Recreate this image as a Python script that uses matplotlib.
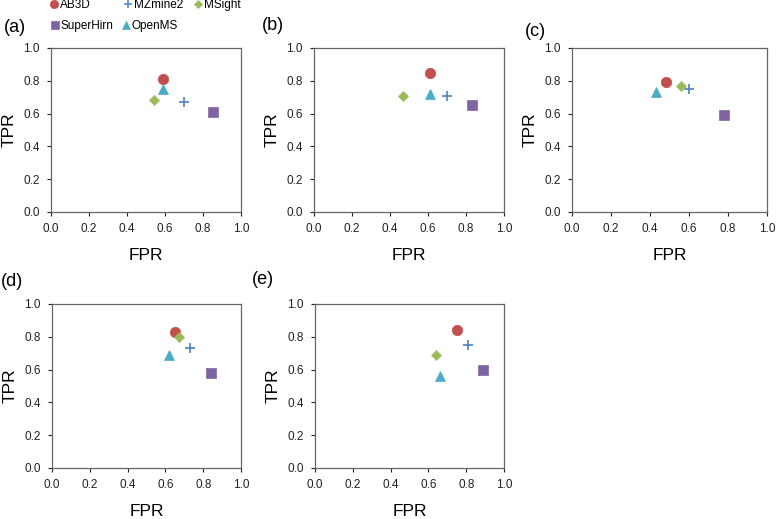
import matplotlib.pyplot as plt
from matplotlib.lines import Line2D

plt.rcParams['font.family'] = ['Liberation Sans', 'DejaVu Sans']

tools = ['AB3D', 'MZmine2', 'MSight', 'SuperHirn', 'OpenMS']
colors = ['#C0504D', '#4F81BD', '#9BBB59', '#8064A2', '#4BACC6']
markers = ['o', '+', 'D', 's', '^']
msizes = [7.5, 7, 5.5, 7, 7.5]

panels = ['(a)', '(b)', '(c)', '(d)', '(e)']
# FPR / TPR per panel, in the order of tools
fpr = [
    [0.59, 0.70, 0.54, 0.85, 0.59],
    [0.61, 0.70, 0.47, 0.83, 0.61],
    [0.48, 0.60, 0.56, 0.78, 0.43],
    [0.65, 0.73, 0.67, 0.84, 0.62],
    [0.75, 0.81, 0.64, 0.89, 0.66],
]
tpr = [
    [0.81, 0.67, 0.68, 0.61, 0.75],
    [0.85, 0.71, 0.71, 0.65, 0.72],
    [0.79, 0.75, 0.77, 0.59, 0.73],
    [0.83, 0.73, 0.80, 0.58, 0.69],
    [0.84, 0.75, 0.69, 0.60, 0.56],
]
ticks = [0.0, 0.2, 0.4, 0.6, 0.8, 1.0]

W, H = 776, 519
fig = plt.figure(figsize=(W / 100, H / 100), dpi=100)

# axes boxes in pixels: left, top, right, bottom
boxes = [
    (51, 48, 241, 212),
    (314, 48, 504, 212),
    (572, 48, 767, 212),
    (52, 304, 241, 468),
    (315, 304, 504, 468),
]
label_pos = [(4, 27), (262, 25), (525, 31), (1, 281), (252, 280)]

for i, (l, t, r, b) in enumerate(boxes):
    ax = fig.add_axes([l / W, 1 - b / H, (r - l) / W, (b - t) / H])
    for j in range(len(tools)):
        ax.plot(fpr[i][j], tpr[i][j], linestyle='none', marker=markers[j],
                color=colors[j], markersize=msizes[j],
                markeredgewidth=1.2 if markers[j] == '+' else 0.5)
    ax.set_xlim(0, 1)
    ax.set_ylim(0, 1)
    ax.set_xticks(ticks)
    ax.set_yticks(ticks)
    ax.set_xticklabels(['%.1f' % v for v in ticks])
    ax.set_yticklabels(['%.1f' % v for v in ticks])
    ax.tick_params(direction='out', length=3, width=0.8, labelsize=8.5,
                   colors='#222222', pad=5)
    for s in ax.spines.values():
        s.set_color('#666666')
        s.set_linewidth(0.9)
    ax.set_xlabel('FPR', fontsize=12.5, labelpad=9)
    ax.set_ylabel('TPR', fontsize=12.5, labelpad=5)
    x, y = label_pos[i]
    fig.text(x / W, 1 - y / H, panels[i], fontsize=13, va='center', ha='left')

# legend entries placed like the original (marker centre in pixels)
legend_xy = [(54, 5), (128, 5), (198, 5), (55, 26), (126, 26)]
leg_fs = 8.5
half = 0.8 * leg_fs * 100 / 72 / 2
for k in range(len(tools)):
    h = Line2D([], [], linestyle='none', marker=markers[k], color=colors[k],
               markersize=msizes[k] - 1.5,
               markeredgewidth=1.1 if markers[k] == '+' else 0.5)
    mx, my = legend_xy[k]
    leg = fig.legend([h], [tools[k]], loc='center left',
                     bbox_to_anchor=((mx - half) / W, 1 - my / H),
                     frameon=False, fontsize=leg_fs, handlelength=0.8,
                     handletextpad=0.1, borderpad=0, borderaxespad=0)

fig.savefig('out.png', dpi=100)
